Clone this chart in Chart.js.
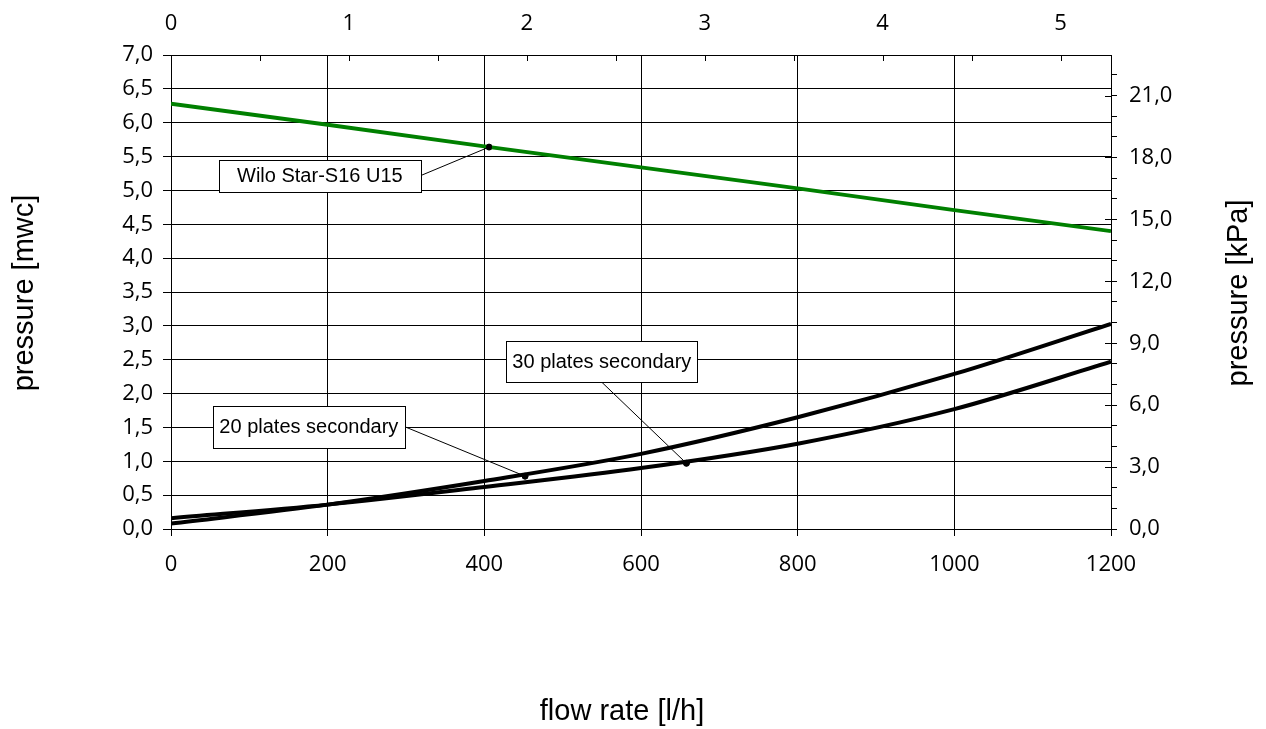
<!DOCTYPE html>
<html><head><meta charset="utf-8">
<script src="https://cdn.jsdelivr.net/npm/chart.js@4/dist/chart.umd.min.js"></script>
<style>html,body{margin:0;padding:0;background:#fff}#wrap{width:1266px;height:729px;position:relative}</style>
</head><body><div id="wrap"><canvas id="c"></canvas></div>
<script>
// ---- data ----
const flowRates = [0, 200, 400, 600, 800, 1000, 1200];            // l/h
const pumpWiloStarS16U15 = [6.28, 5.97, 5.65, 5.34, 5.03, 4.71, 4.40]; // mwc
const plates20Secondary = [0.08, 0.36, 0.71, 1.11, 1.65, 2.29, 3.03];
const plates30Secondary = [0.16, 0.36, 0.62, 0.90, 1.26, 1.77, 2.47];
const markerFlow = [406, 452, 658];
const markerPressure = [5.64, 0.78, 0.97];
const labelTexts = ['Wilo Star-S16 U15', '20 plates secondary', '30 plates secondary'];
const axisTitles = ['flow rate [l/h]', 'pressure [mwc]', 'pressure [kPa]'];
const topTickLabels = [0, 1, 2, 3, 4, 5];
const rightTickLabels = [0, 3, 6, 9, 12, 15, 18, 21];
const LPH_PER_GPM = 227.1247;
const RIGHT_PER_MWC = 3.28084;

// annotation boxes (centre in data units, size in px)
const annotations = [
  {label: 0, cx: 190, cy: 5.22, w: 202, h: 32, from: 'right'},
  {label: 1, cx: 176, cy: 1.51, w: 192, h: 42, from: 'right'},
  {label: 2, cx: 550, cy: 2.47, w: 191, h: 41, from: 'bottom'}
];

const pts = (xs, ys) => xs.map((x, i) => ({x, y: ys[i]}));
const comma = v => v.toFixed(1).replace('.', ',');
const TICK_FONT = {family: '"Open Sans", "Noto Sans", sans-serif', size: 22};
const TITLE_CSS = '29px "Liberation Sans", Arial, sans-serif';

const innerTicks = {
  id: 'innerTicks',
  afterDraw(chart) {
    const {ctx, chartArea: a, scales: {x2, y2}} = chart;
    ctx.save(); ctx.strokeStyle = '#000'; ctx.lineWidth = 1;
    x2.ticks.forEach(t => {
      const px = Math.round(x2.getPixelForValue(t.value)) + 0.5;
      ctx.beginPath(); ctx.moveTo(px, a.top); ctx.lineTo(px, a.top + 6); ctx.stroke();
    });
    y2.ticks.forEach(t => {
      if (!rightTickLabels.includes(t.value)) return;
      const py = Math.round(y2.getPixelForValue(t.value)) + 0.5;
      ctx.beginPath(); ctx.moveTo(a.right - 6, py); ctx.lineTo(a.right, py); ctx.stroke();
    });
    ctx.restore();
  }
};

const axisTitlePlugin = {
  id: 'axisTitles',
  afterDraw(chart) {
    const {ctx, chartArea: a, width, height} = chart;
    const midY = (a.top + a.bottom) / 2 + 1;
    ctx.save();
    ctx.fillStyle = '#000'; ctx.font = TITLE_CSS; ctx.textAlign = 'center'; ctx.textBaseline = 'alphabetic';
    ctx.fillText(axisTitles[0], a.left + (a.right - a.left) / 2 - 19, height - 9);
    [[axisTitles[1], 33], [axisTitles[2], width - 19]].forEach(([txt, bx]) => {
      ctx.save(); ctx.translate(bx, midY); ctx.rotate(-Math.PI / 2);
      ctx.fillText(txt, 0, 0); ctx.restore();
    });
    ctx.restore();
  }
};

const callouts = {
  id: 'callouts',
  afterDatasetsDraw(chart) {
    const {ctx, scales: {x, y}} = chart;
    ctx.save();
    annotations.forEach(an => {
      const cx = x.getPixelForValue(an.cx), cy = y.getPixelForValue(an.cy);
      const tx = x.getPixelForValue(markerFlow[an.label]), ty = y.getPixelForValue(markerPressure[an.label]);
      let sx, sy;
      if (an.from === 'right') { sx = cx + an.w / 2; sy = cy; } else { sx = cx; sy = cy + an.h / 2; }
      ctx.strokeStyle = '#000'; ctx.lineWidth = 1;
      ctx.beginPath(); ctx.moveTo(sx, sy); ctx.lineTo(tx, ty); ctx.stroke();
      const l = Math.round(cx - an.w / 2) + 0.5, t = Math.round(cy - an.h / 2) + 0.5;
      ctx.fillStyle = '#fff'; ctx.fillRect(l, t, an.w, an.h);
      ctx.strokeRect(l, t, an.w, an.h);
      ctx.fillStyle = '#000'; ctx.font = '20px "Liberation Sans", Arial, sans-serif';
      ctx.textAlign = 'center'; ctx.textBaseline = 'middle';
      ctx.fillText(labelTexts[an.label], cx, cy + 1);
      ctx.beginPath(); ctx.arc(tx, ty, 3, 0, Math.PI * 2); ctx.fill();
    });
    ctx.restore();
  }
};

new Chart(document.getElementById('c'), {
  type: 'line',
  data: {
    datasets: [
      {label: labelTexts[0], data: pts(flowRates, pumpWiloStarS16U15), borderColor: '#008000', borderWidth: 3.8, pointRadius: 0, xAxisID: 'x', yAxisID: 'y'},
      {label: labelTexts[1], data: pts(flowRates, plates20Secondary), borderColor: '#000', borderWidth: 4, pointRadius: 0, cubicInterpolationMode: 'monotone', xAxisID: 'x', yAxisID: 'y'},
      {label: labelTexts[2], data: pts(flowRates, plates30Secondary), borderColor: '#000', borderWidth: 4, pointRadius: 0, cubicInterpolationMode: 'monotone', xAxisID: 'x', yAxisID: 'y'},
      {type: 'scatter', label: 'points', data: pts(markerFlow, markerPressure), pointRadius: 3, backgroundColor: '#000', borderColor: '#000', xAxisID: 'x', yAxisID: 'y'}
    ]
  },
  options: {
    responsive: true, maintainAspectRatio: false, animation: false, devicePixelRatio: 1,
    layout: {padding: 0},
    plugins: {legend: {display: false}, tooltip: {enabled: false}},
    scales: {
      x: {
        type: 'linear', position: 'bottom', min: 0, max: 1200,
        ticks: {stepSize: 200, autoSkip: false, includeBounds: false, font: TICK_FONT, color: '#000', padding: 16, maxRotation: 0, callback: v => String(v)},
        grid: {color: '#000', lineWidth: 1, tickLength: 7},
        border: {color: '#000'},
        afterFit: s => { s.height = 200; }
      },
      x2: {
        type: 'linear', position: 'top', min: 0, max: 1200 / LPH_PER_GPM,
        ticks: {stepSize: 0.5, autoSkip: false, includeBounds: false, font: TICK_FONT, color: '#000', padding: 18, maxRotation: 0,
          callback: v => topTickLabels.includes(v) ? String(v) : ''},
        grid: {drawOnChartArea: false, drawTicks: false},
        border: {color: '#000'},
        afterFit: s => { s.height = 55; }
      },
      y: {
        type: 'linear', position: 'left', min: 0, max: 7,
        ticks: {stepSize: 0.5, autoSkip: false, includeBounds: false, font: TICK_FONT, color: '#000', padding: 10, callback: v => comma(v)},
        grid: {color: '#000', lineWidth: 1, tickLength: 8},
        border: {color: '#000'},
        afterFit: s => { s.width = 171; }
      },
      y2: {
        type: 'linear', position: 'right', min: 0, max: 7 * RIGHT_PER_MWC,
        ticks: {stepSize: 1, autoSkip: false, includeBounds: false, font: TICK_FONT, color: '#000', padding: 12,
          callback: v => rightTickLabels.includes(v) ? comma(v) : ''},
        grid: {drawOnChartArea: false, color: '#000', tickLength: 6},
        border: {color: '#000'},
        afterFit: s => { s.width = 155; }
      }
    }
  },
  plugins: [innerTicks, callouts, axisTitlePlugin]
});
</script></body></html>
